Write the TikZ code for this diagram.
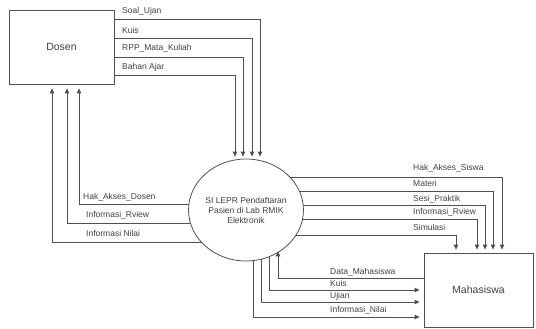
\documentclass[tikz,border=0pt]{standalone}
\usepackage{fontspec}
\setmainfont{Liberation Sans}
\usetikzlibrary{shapes.geometric,arrows.meta,calc}
\pgfdeclarelayer{bg}
\pgfsetlayers{bg,main}
\definecolor{ln}{HTML}{505050}
\definecolor{tx}{HTML}{404040}
\begin{document}
\begin{tikzpicture}[x=1pt,y=-1pt,
  ent/.style={draw=ln,line width=0.8pt,fill=white,rectangle,text=tx,font=\fontsize{10.5}{12}\selectfont},
  proc/.style={draw=ln,line width=0.8pt,fill=white,ellipse,inner sep=0pt,text=tx,align=center,font=\fontsize{8.5}{10}\selectfont},
  flow/.style={draw=ln,line width=0.8pt,-{Triangle[width=4.5pt,length=5pt]}},
  lbl/.style={anchor=west,inner sep=0pt,text=tx,font=\fontsize{8.5}{10}\selectfont}]
\useasboundingbox (0,0) rectangle (536,329);
\node[ent,minimum width=105pt,minimum height=74pt] (d) at (61.5,47) {Dosen};
\node[ent,minimum width=109pt,minimum height=74pt] (m) at (478.5,290) {Mahasiswa};
\node[proc,minimum width=94pt,minimum height=102pt] (c) at (246,210) {SI LEPR Pendaftaran\\Pasien di Lab RMIK\\Elektronik};

% top: Dosen -> process
\draw[flow] (d.east |- 0,19) -| ($(c.north)+(14,-2)$);
\draw[flow] (d.east |- 0,38) -| ($(c.north)+(6,-2)$);
\draw[flow] (d.east |- 0,57) -| ($(c.north)+(-3,-2)$);
\draw[flow] (d.east |- 0,75) -| ($(c.north)+(-11,-2)$);
\node[lbl] (l1) at (122,11) {Soal\_Ujan};
\node[lbl] (l2) at (122,30) {Kuis};
\node[lbl] (l3) at (122,48) {RPP\_Mata\_Kuliah};
\node[lbl] (l4) at (122,67) {Bahan Ajar};

\begin{pgfonlayer}{bg}
% left: process -> Dosen
\draw[flow,shorten >=4pt] (c.center |- 0,204) -| ([xshift=17.5pt]d.south);
\draw[flow,shorten >=4pt] (c.center |- 0,223) -| ([xshift=5.5pt]d.south);
\draw[flow,shorten >=4pt] (c.center |- 0,242) -| ([xshift=-9.5pt]d.south);
% right: process -> Mahasiswa
\draw[flow,shorten >=3pt] (c.center |- 0,177) -| ([xshift=23.5pt]m.north);
\draw[flow,shorten >=3pt] (c.center |- 0,191) -| ([xshift=14.5pt]m.north);
\draw[flow,shorten >=3pt] (c.center |- 0,205) -| ([xshift=6.5pt]m.north);
\draw[flow,shorten >=3pt] (c.center |- 0,219) -| ([xshift=-1.5pt]m.north);
\draw[flow,shorten >=3pt] (c.center |- 0,235) -| ([xshift=-22.5pt]m.north);
% bottom: process -> Mahasiswa
\draw[flow,shorten >=4pt] ([xshift=23pt]c.center) |- (m.west |- 0,290);
\draw[flow,shorten >=4pt] ([xshift=15pt]c.center) |- (m.west |- 0,302);
\draw[flow,shorten >=4pt] ([xshift=7pt]c.center) |- (m.west |- 0,317);
\end{pgfonlayer}
% Mahasiswa -> process
\draw[flow] (m.west |- 0,278) -| ($(c.south)+(32,-10)$);

\node[lbl] (l5) at (83,197) {Hak\_Akses\_Dosen};
\node[lbl] (l6) at (86,215) {Informasi\_Rview};
\node[lbl] (l7) at (86,233) {Informasi Nilai};

\node[lbl] (l8) at (413,168) {Hak\_Akses\_Siswa};
\node[lbl] (l9) at (413,183) {Materi};
\node[lbl] (l10) at (413,199) {Sesi\_Praktik};
\node[lbl] (l11) at (413,212) {Informasi\_Rview};
\node[lbl] (l12) at (413,227) {Simulasi};

\node[lbl] (l13) at (330,272) {Data\_Mahasiswa};
\node[lbl] (l14) at (330,283) {Kuis};
\node[lbl] (l15) at (330,296) {Ujian};
\node[lbl] (l16) at (330,310) {Informasi\_Nilai};
\end{tikzpicture}
\end{document}
